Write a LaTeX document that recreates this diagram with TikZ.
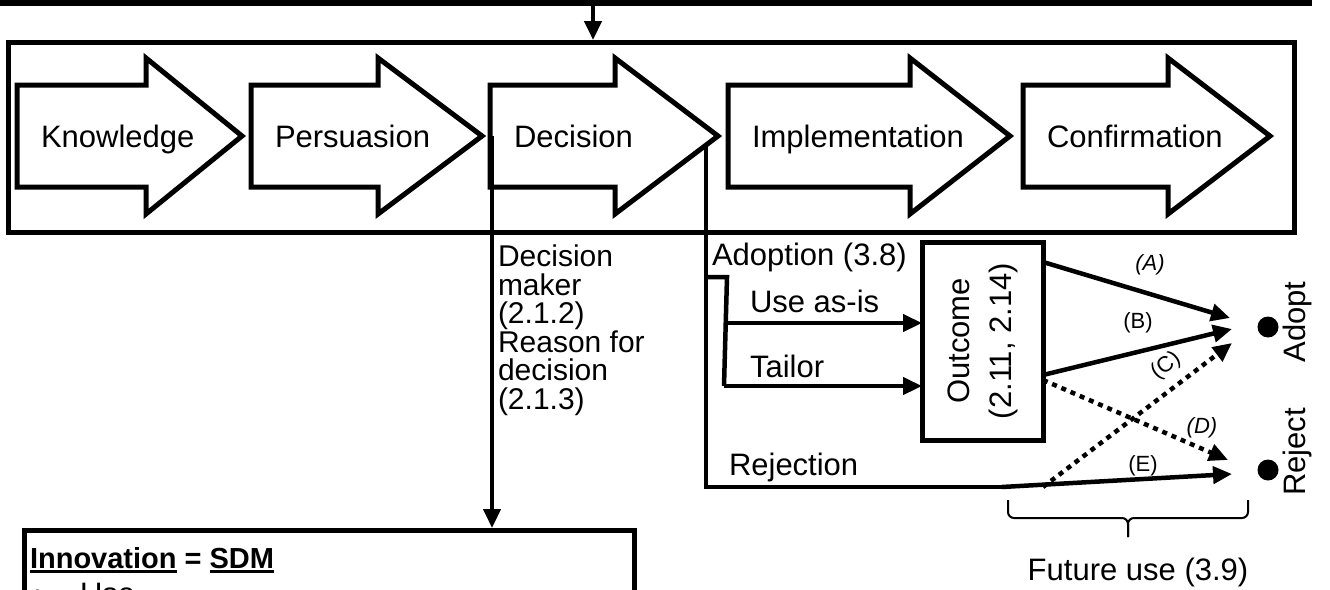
\documentclass[tikz,border=0pt]{standalone}
\usepackage{fontspec}
\setmainfont{Liberation Sans}
\usetikzlibrary{arrows.meta}

% thick underline under a word
\newcommand\ulword[1]{\setbox0\hbox{#1}\rlap{\rule[-4.5pt]{\wd0}{2.5pt}}\box0\relax}

% one stage of the innovation-decision process: block arrow plus its label
\newcommand\stagearrow[5]{%
  \draw[stage] (#2,85) -- (#3,85) -- (#3,58) -- (#4,136) -- (#3,214) -- (#3,187) -- (#2,187) -- cycle;
  \node[anchor=base west] (#1) at (#2+24,147) {#5};
}

\begin{document}
\begin{tikzpicture}[x=1pt,y=-1pt,
  every node/.style={inner sep=0pt, outer sep=0pt, font=\fontsize{31}{28}\selectfont},
  stage/.style={line width=5pt, line join=miter, fill=white},
  frame/.style={draw, line width=5pt},
  conn/.style={line width=4.5pt},
  arr/.style={conn, -{Triangle[length=19pt,width=17pt]}},
  dotarr/.style={arr, dash pattern=on 5pt off 5pt},
  lbl/.style={font=\fontsize{22}{24}\selectfont},
  lbli/.style={font=\fontsize{22}{24}\selectfont\itshape},
]
\clip (0,0) rectangle (1330,589);

% feed line along the top
\coordinate (feedL) at (0,3);
\coordinate (feedR) at (1312,3);
\coordinate (feedDrop) at (593,3);
\draw[line width=6pt] (feedL) -- (feedR);

% frame holding the five stages
\node[frame, minimum width=1286pt, minimum height=190pt] (stages) at (651,137) {};
\draw[arr] (feedDrop) -- ([yshift=2pt]feedDrop |- stages.north);

\stagearrow{knowledge}{17}{146}{242}{Knowledge}
\stagearrow{persuasion}{251}{378}{482}{Persuasion}
\stagearrow{decision}{490}{615}{718}{Decision}
\stagearrow{implementation}{728}{910}{1010}{Implementation}
\stagearrow{confirmation}{1023}{1168}{1270}{Confirmation}

% innovation box at the bottom
\node[frame, anchor=north west, minimum width=610pt, minimum height=120pt] (innov) at (24,530) {};
\node[anchor=base west, font=\fontsize{29}{30}\selectfont\bfseries] (innovTitle) at (30,568) {\ulword{Innovation} = \ulword{SDM}};
\node[anchor=base west] (innovBullet) at (32,604) {•};
\node[anchor=base west] (innovUse) at (80,604) {Use};

% decision branch down to the innovation box
\coordinate (decStart) at (492,136);
\draw[arr] (decStart) -- ([yshift=2pt]decStart |- innov.north);
\node[anchor=north west, align=left, font=\fontsize{30}{28.5}\selectfont] (decNote) at (498,245)
  {Decision\\maker\\(2.1.2)\\Reason for\\decision\\(2.1.3)};

% outcome box
\node[frame, minimum width=121pt, minimum height=198pt] (outcome) at (982.5,341) {};
\node[rotate=90, align=center, font=\fontsize{31}{42}\selectfont] (outcomeText) at (outcome.center) {Outcome\\(2.11, 2.14)};

% adoption / rejection paths
\coordinate (admStart) at (706,145);
\coordinate (rejCorner) at (706,487);
\coordinate (rejKnee) at (1002,487);
\draw[conn] (admStart) -- (rejCorner) -- (rejKnee);
\coordinate (brA) at (706,277);
\coordinate (brB) at (727,277);
\coordinate (brUse) at (726,323);
\coordinate (brTail) at (724,386);
\draw[conn, line join=miter] (brA) -- (brB) -- (brTail);
\draw[arr] (brUse) -- (brUse -| outcome.west);
\draw[arr] (brTail) -- (brTail -| outcome.west);

\node[anchor=base west] (adoptionLbl) at (712,265) {Adoption (3.8)};
\node[anchor=base west] (useLbl) at (750,312) {Use as-is};
\node[anchor=base west] (tailorLbl) at (750,377) {Tailor};
\node[anchor=base west] (rejectionLbl) at (729,475) {Rejection};

% final states
\node[circle, fill, minimum size=21pt] (adoptDot) at (1268,327) {};
\node[circle, fill, minimum size=21pt] (rejectDot) at (1268,470) {};
\node[rotate=90] (adoptTxt) at (1297,322) {Adopt};
\node[rotate=90] (rejectTxt) at (1297,452) {Reject};

\coordinate (adoptInA) at (1230,318);
\coordinate (adoptInB) at (1232,329);
\coordinate (adoptInC) at (1232,343);
\coordinate (rejectInD) at (1228,460);
\coordinate (rejectInE) at (1232,474);

\draw[arr] ([yshift=-20pt]outcome.north east) -- (adoptInA);
\draw[arr] ([yshift=65pt]outcome.south east) -- (adoptInB);
\draw[dotarr] (outcome.east |- rejCorner) -- (adoptInC);
\draw[dotarr] ([yshift=60pt]outcome.south east) -- (rejectInD);
\draw[arr] (rejKnee) -- (rejectInE);

\node[lbli] (lblA) at (1150,265) {(A)};
\node[lbl] (lblB) at (1138,323) {(B)};
\node[lbl, rotate=37] (lblC) at (1166,366) {(C)};
\node[lbli] (lblD) at (1202,428) {(D)};
\node[lbl] (lblE) at (1143,466) {(E)};

% brace over future use
\coordinate (braceL) at (1008,500);
\coordinate (braceR) at (1248,500);
\coordinate (braceTip) at (1128,537);
\draw[line width=2pt, rounded corners=6pt] (braceL) -- (1008,518) -- (1128,518) -- (braceTip);
\draw[line width=2pt, rounded corners=6pt] (braceR) -- (1248,518) -- (1128,518) -- (braceTip);
\node (futureLbl) at (1138,572) {Future use (3.9)};
\end{tikzpicture}
\end{document}
